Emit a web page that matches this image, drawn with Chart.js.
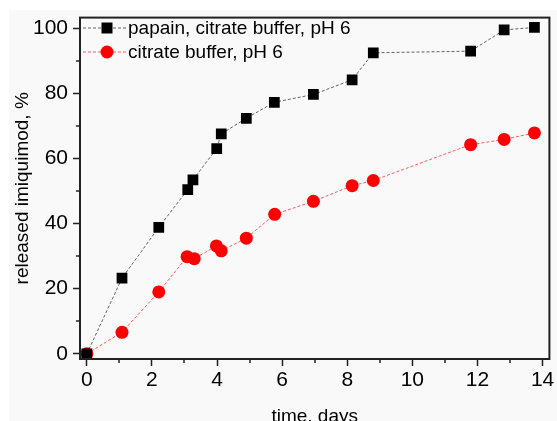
<!DOCTYPE html>
<html>
<head>
    <title>Imiquimod release</title>
    <script src="https://cdn.jsdelivr.net/npm/chart.js"></script>
    <style>
        body { margin: 0; background: #fff; overflow: hidden; }
        #bg { position: absolute; left: 9px; top: 10px; width: 548px; height: 411px; background: #f9f9f9; }
        #wrap { position: absolute; left: 0; top: 0; width: 557px; height: 440px; }
    </style>
</head>
<body>
    <div id="bg"></div>
    <div id="wrap"><canvas id="releaseChart"></canvas></div>

    <script>
    // time points (days) and released imiquimod (%)
    const papainDays = [0, 1.08, 2.21, 3.1, 3.26, 3.99, 4.13, 4.9, 5.76, 6.96, 8.15, 8.8, 11.79, 12.82, 13.75];
    const papainRelease = [0, 23.2, 38.8, 50.4, 53.4, 63.0, 67.5, 72.3, 77.2, 79.6, 84.1, 92.4, 92.9, 99.4, 100.2];
    const bufferDays = [0, 1.08, 2.21, 3.08, 3.3, 3.98, 4.13, 4.9, 5.77, 6.96, 8.15, 8.8, 11.79, 12.82, 13.75];
    const bufferRelease = [0, 6.6, 19.0, 29.8, 29.2, 33.1, 31.6, 35.5, 42.8, 46.8, 51.6, 53.2, 64.2, 65.8, 67.8];
    const seriesLabels = ['papain, citrate buffer, pH 6', 'citrate buffer, pH 6'];
    const xTicks = [0, 2, 4, 6, 8, 10, 12, 14];
    const xMinorTicks = [1, 3, 5, 7, 9, 11, 13];
    const yTicks = [0, 20, 40, 60, 80, 100];
    const yMinorTicks = [10, 30, 50, 70, 90];

    const FONT = "'Liberation Sans', Arial, sans-serif";

    function toPoints(xs, ys) {
        return xs.map((x, i) => ({ x: x, y: ys[i] }));
    }

    // frame, minor ticks and the in-plot legend
    const decorations = {
        id: 'decorations',
        afterDraw(chart) {
            const ctx = chart.ctx;
            const area = chart.chartArea;
            const xs = chart.scales.x, ys = chart.scales.y;
            ctx.save();
            ctx.strokeStyle = '#222';
            ctx.lineWidth = 2;
            ctx.strokeRect(area.left, area.top, area.right - area.left, area.bottom - area.top);

            ctx.lineWidth = 1.5;
            ctx.beginPath();
            xMinorTicks.forEach(v => {
                const px = Math.round(xs.getPixelForValue(v));
                ctx.moveTo(px, area.bottom);
                ctx.lineTo(px, area.bottom + 4);
            });
            yMinorTicks.forEach(v => {
                const py = Math.round(ys.getPixelForValue(v));
                ctx.moveTo(area.left, py);
                ctx.lineTo(area.left - 4, py);
            });
            ctx.stroke();

            // legend
            const rows = [28, 52];
            chart.data.datasets.forEach((ds, i) => {
                const y = rows[i];
                ctx.strokeStyle = ds.borderColor;
                ctx.lineWidth = 1;
                ctx.setLineDash(ds.borderDash);
                ctx.beginPath();
                ctx.moveTo(area.left + 3, y);
                ctx.lineTo(area.left + 48, y);
                ctx.stroke();
                ctx.setLineDash([]);
                ctx.fillStyle = ds.pointBackgroundColor;
                ctx.beginPath();
                if (ds.pointStyle === 'rect') {
                    ctx.rect(area.left + 27 - 5.5, y - 5.5, 11, 11);
                } else {
                    ctx.arc(area.left + 27, y, 6.5, 0, Math.PI * 2);
                }
                ctx.fill();
                ctx.fillStyle = '#000';
                ctx.font = '19px ' + FONT;
                ctx.textBaseline = 'middle';
                ctx.textAlign = 'left';
                ctx.fillText(ds.label, area.left + 48, y + 1);
            });
            ctx.restore();
        }
    };

    new Chart(document.getElementById('releaseChart'), {
        type: 'scatter',
        data: {
            datasets: [{
                label: seriesLabels[0],
                data: toPoints(papainDays, papainRelease),
                showLine: true,
                borderColor: 'rgba(60, 60, 60, 0.8)',
                borderWidth: 1,
                borderDash: [3, 2],
                pointStyle: 'rect',
                pointRadius: 7.6,
                pointBorderWidth: 0,
                pointBackgroundColor: '#000',
                pointBorderColor: '#000'
            }, {
                label: seriesLabels[1],
                data: toPoints(bufferDays, bufferRelease),
                showLine: true,
                borderColor: '#ff5a5a',
                borderWidth: 1,
                borderDash: [3, 2],
                pointStyle: 'circle',
                pointRadius: 6.5,
                pointBorderWidth: 0,
                pointBackgroundColor: '#ff0000',
                pointBorderColor: '#ff0000'
            }]
        },
        options: {
            responsive: true,
            maintainAspectRatio: false,
            animation: false,
            layout: { padding: { top: 13, right: 1, left: 0, bottom: 0 } },
            plugins: {
                legend: { display: false },
                tooltip: { enabled: false }
            },
            scales: {
                x: {
                    type: 'linear',
                    min: -0.21,
                    max: 14.21,
                    afterBuildTicks: s => { s.ticks = xTicks.map(v => ({ value: v })); },
                    afterFit: s => { s.height = 81; },
                    grid: { drawOnChartArea: false, tickLength: 7, tickWidth: 1.5, tickColor: '#222' },
                    border: { display: false },
                    ticks: { color: '#000', padding: 2, maxRotation: 0, font: { family: FONT, size: 21 } },
                    title: { display: true, text: 'time, days', color: '#000', padding: { bottom: 12 }, font: { family: FONT, size: 19 } }
                },
                y: {
                    type: 'linear',
                    min: -1.6,
                    max: 103.2,
                    afterBuildTicks: s => { s.ticks = yTicks.map(v => ({ value: v })); },
                    afterFit: s => { s.width = 80; },
                    grid: { drawOnChartArea: false, tickLength: 7, tickWidth: 1.5, tickColor: '#222' },
                    border: { display: false },
                    ticks: { color: '#000', padding: 5, font: { family: FONT, size: 21 } },
                    title: { display: true, text: 'released imiquimod, %', color: '#000', padding: { top: 11 }, font: { family: FONT, size: 19 } }
                }
            }
        },
        plugins: [decorations]
    });
    </script>
</body>
</html>
